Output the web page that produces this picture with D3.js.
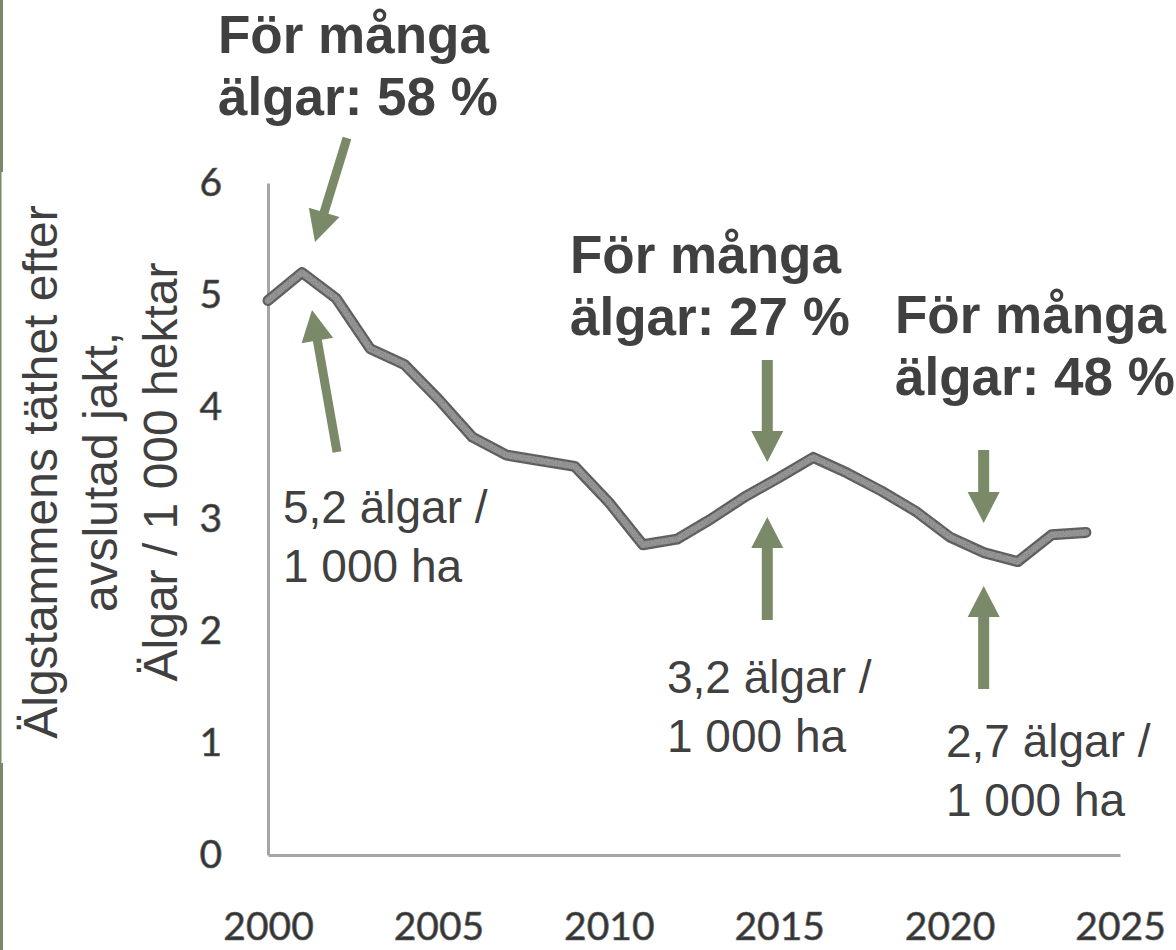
<!DOCTYPE html>
<html>
<head>
<meta charset="utf-8">
<script src="https://cdn.jsdelivr.net/npm/d3@7"></script>
<style>
  html, body { margin: 0; padding: 0; background: #fff; }
  svg { display: block; }
</style>
</head>
<body>
<svg id="chart" width="1176" height="950"></svg>
<script>
// Moose population density after the hunt, moose per 1 000 hectares
const years = [2000, 2001, 2002, 2003, 2004, 2005, 2006, 2007, 2008, 2009,
               2010, 2011, 2012, 2013, 2014, 2015, 2016, 2017, 2018, 2019,
               2020, 2021, 2022, 2023, 2024];
const density = [4.95, 5.2, 4.97, 4.52, 4.38, 4.07, 3.73, 3.57, 3.52, 3.47,
                 3.15, 2.77, 2.82, 3.0, 3.2, 3.37, 3.55, 3.41, 3.25, 3.07,
                 2.84, 2.7, 2.62, 2.86, 2.88];
const xTicks = [2000, 2005, 2010, 2015, 2020, 2025];
const yTicks = [0, 1, 2, 3, 4, 5, 6];
const yTitleLines = ["Älgstammens täthet efter", "avslutad jakt,", "Älgar / 1 000 hektar"];

// Callouts: share of areas with too many moose, and the density at that point
const shareLabels = ["För många", "älgar: 58 %", "För många", "älgar: 27 %", "För många", "älgar: 48 %"];
const shareYears = [2001, 2014, 2021];
const densityCallouts = [5.2, 3.2, 2.7];

const svg = d3.select("#chart");
const W = 1176, H = 950;
const green = "#7a8968";
const textCol = "#404040";

// Green edge strip on the left
svg.append("rect").attr("x", 0).attr("y", 0).attr("width", 3).attr("height", 172).attr("fill", green);
svg.append("rect").attr("x", 0).attr("y", 172).attr("width", 1.5).attr("height", 591).attr("fill", green);
svg.append("rect").attr("x", 0).attr("y", 763).attr("width", 3).attr("height", H - 763).attr("fill", green);

const x = d3.scaleLinear().domain([2000, 2025]).range([268, 1120]);
const y = d3.scaleLinear().domain([0, 6]).range([855, 183]);

// Grain texture for the line
const defs = svg.append("defs");
const f = defs.append("filter").attr("id", "grain")
  .attr("x", "-5%").attr("y", "-10%").attr("width", "110%").attr("height", "120%");
f.append("feTurbulence").attr("type", "fractalNoise").attr("baseFrequency", 0.75)
  .attr("numOctaves", 2).attr("seed", 4).attr("result", "noise");
f.append("feColorMatrix").attr("in", "noise").attr("type", "matrix")
  .attr("values", "0.7 0 0 0 0.55  0.7 0 0 0 0.55  0.7 0 0 0 0.55  0 0 0 0 1")
  .attr("result", "gnoise");
f.append("feComposite").attr("in", "SourceGraphic").attr("in2", "gnoise")
  .attr("operator", "arithmetic").attr("k1", 1).attr("k2", 0).attr("k3", 0).attr("k4", 0);

// Axes
const yAxis = svg.append("g").attr("transform", "translate(268,0)")
  .call(d3.axisLeft(y).tickValues(yTicks).tickSize(0).tickSizeOuter(0).tickPadding(46).tickFormat(d3.format("d")));
const xAxis = svg.append("g").attr("transform", "translate(0,855)")
  .call(d3.axisBottom(x).tickValues(xTicks).tickSize(0).tickSizeOuter(0).tickPadding(57).tickFormat(d3.format("d")));
[yAxis, xAxis].forEach(g => {
  g.select(".domain").attr("stroke", "#a6a6a6").attr("stroke-width", 3);
  g.selectAll("text")
    .attr("font-family", "Lato, 'Open Sans', sans-serif")
    .attr("font-size", 39)
    .attr("fill", "#333")
    .attr("stroke", "#666")
    .attr("stroke-width", 0.7);
});

// Density line
const line = d3.line().x((d, i) => x(years[i])).y(d => y(d));
const lineG = svg.append("g").attr("filter", "url(#grain)");
lineG.append("path").datum(density).attr("d", line)
  .attr("fill", "none").attr("stroke", "#656565").attr("stroke-width", 11)
  .attr("stroke-linejoin", "round").attr("stroke-linecap", "round");
lineG.append("path").datum(density).attr("d", line)
  .attr("fill", "none").attr("stroke", "#999").attr("stroke-width", 6.5)
  .attr("stroke-linejoin", "round").attr("stroke-linecap", "round");

// Y axis title, three rotated lines
const yt = svg.append("text")
  .attr("transform", "translate(0,472) rotate(-90)")
  .attr("font-family", "'Liberation Sans', Arial, sans-serif")
  .attr("font-size", 48)
  .attr("fill", textCol)
  .attr("text-anchor", "middle");
yTitleLines.forEach((t, i) => {
  yt.append("tspan").attr("x", 0).attr("y", 57 + i * 60).text(t);
});

// Arrow shape: shaft plus triangular head, tip at (x2, y2)
function arrow(x1, y1, x2, y2, shaftW = 10, headW = 32, headL = 31) {
  const dx = x2 - x1, dy = y2 - y1, len = Math.hypot(dx, dy);
  const ux = dx / len, uy = dy / len, nx = -uy, ny = ux;
  const bx = x2 - ux * headL, by = y2 - uy * headL;
  const pts = [
    [x1 + nx * shaftW / 2, y1 + ny * shaftW / 2],
    [bx + nx * shaftW / 2, by + ny * shaftW / 2],
    [bx + nx * headW / 2, by + ny * headW / 2],
    [x2, y2],
    [bx - nx * headW / 2, by - ny * headW / 2],
    [bx - nx * shaftW / 2, by - ny * shaftW / 2],
    [x1 - nx * shaftW / 2, y1 - ny * shaftW / 2]
  ];
  svg.append("path").attr("d", d3.line()(pts) + "Z").attr("fill", green);
}

// 2001 peak
arrow(347, 138, 315, 242, 9);
arrow(337, 452, 312, 310, 9);
// 2014/2015
const x15 = x(2014.65);
arrow(x15, 360, x15, 462, 11);
arrow(x15, 620, x15, 517, 11);
// 2021
const x21 = x(shareYears[2]);
arrow(x21, 450, x21, 523, 11);
arrow(x21, 689, x21, 586, 11);

// Bold share callouts
const boldPos = [[218, 53], [570, 273], [895, 333]];
boldPos.forEach((p, i) => {
  const t = svg.append("text")
    .attr("font-family", "'Liberation Sans', Arial, sans-serif")
    .attr("font-weight", "bold").attr("font-size", 53).attr("fill", textCol);
  t.append("tspan").attr("x", p[0]).attr("y", p[1]).text(shareLabels[i * 2]);
  t.append("tspan").attr("x", p[0]).attr("y", p[1] + 62).text(shareLabels[i * 2 + 1]);
});

// Density callouts
const fmt = v => d3.format(".1f")(v).replace(".", ",");
const regPos = [[283, 523], [667, 693], [946, 757]];
regPos.forEach((p, i) => {
  const t = svg.append("text")
    .attr("font-family", "'Liberation Sans', Arial, sans-serif")
    .attr("font-size", 46).attr("fill", textCol);
  t.append("tspan").attr("x", p[0]).attr("y", p[1]).text(fmt(densityCallouts[i]) + " älgar /");
  t.append("tspan").attr("x", p[0]).attr("y", p[1] + 59).text("1 000 ha");
});
</script>
</body>
</html>
